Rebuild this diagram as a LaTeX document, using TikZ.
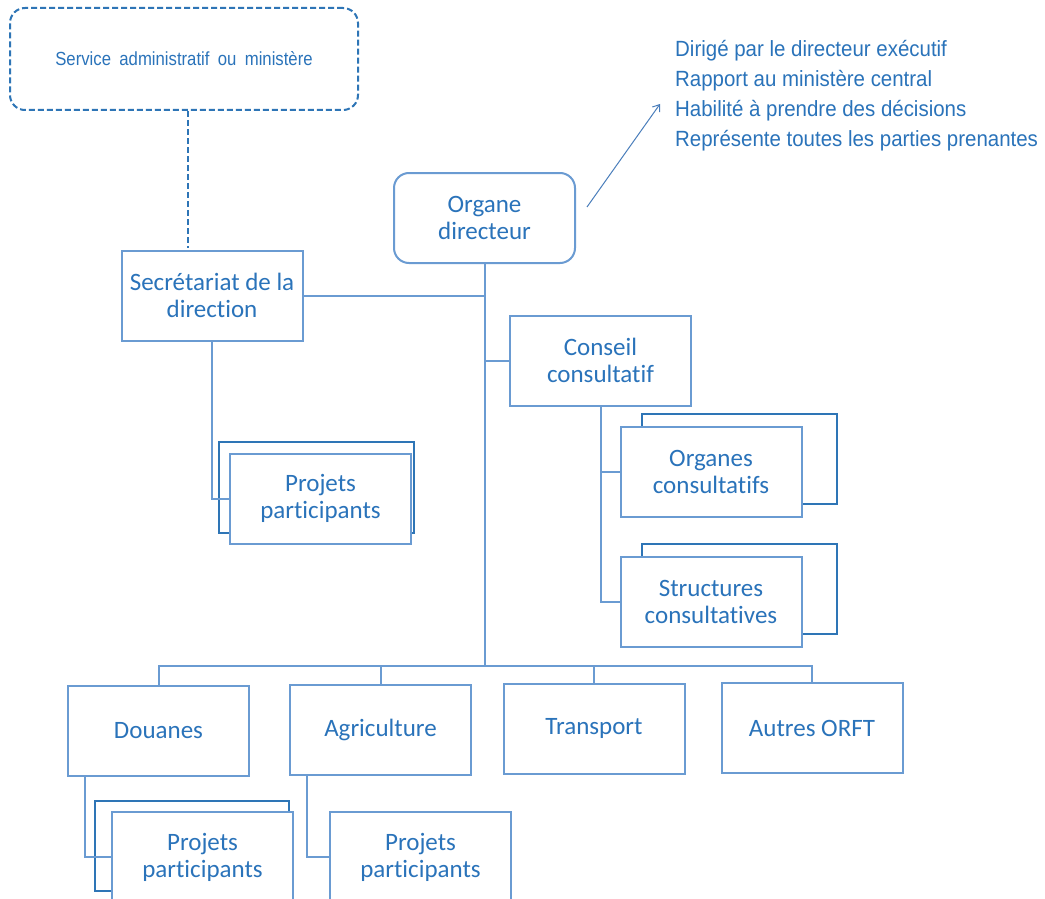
\documentclass[tikz,border=0pt]{standalone}
\usepackage{fontspec}
\setmainfont[Ligatures=NoCommon]{Carlito}
\newfontfamily\narrowfont[FakeStretch=0.93]{Liberation Sans}
\newfontfamily\narrowwide[FakeStretch=0.88,WordSpace=1.8]{Liberation Sans}
\usetikzlibrary{arrows.meta}
\definecolor{txtblue}{HTML}{2A73BA}
\definecolor{linblue}{HTML}{6A9BD2}
\definecolor{darkblue}{HTML}{2E75B6}
\definecolor{arrblue}{HTML}{4A7EBB}
\begin{document}
\begin{tikzpicture}[x=1pt,y=-1pt,
  box/.style={draw=linblue, line width=2pt, fill=white, minimum width=181pt, minimum height=90pt,
    inner sep=0pt, align=center, text=txtblue, font=\fontsize{25}{27}\selectfont},
  roundbox/.style={box, rounded corners=15pt},
  backbox/.style={draw=darkblue, line width=2pt, inner sep=0pt},
  conn/.style={draw=linblue, line width=2pt},
  dashconn/.style={draw=darkblue, line width=2pt, dash pattern=on 6pt off 3pt},
  notes/.style={align=left, text=txtblue, inner sep=0pt, font=\narrowfont\fontsize{22}{30}\selectfont},
]
\clip (0,0) rectangle (1045,899);
\fill[white] (0,0) rectangle (1045,899);

% top service box
\node[dashconn, rounded corners=15pt, minimum width=348pt, minimum height=102pt, inner sep=0pt,
      text=txtblue, font=\narrowwide\fontsize{19}{22}\selectfont] (svc) at (184,59) {Service administratif ou ministère};
\coordinate (d1) at (188,248);
\draw[dashconn] (svc.south -| d1) -- (d1);

% notes
\node[notes, anchor=north west] (nt) at (675,40) {Dirigé par le directeur exécutif\\Rapport au ministère central\\Habilité à prendre des décisions\\Représente toutes les parties prenantes};
\coordinate (a0) at (587,207);
\coordinate (a1) at (660,104);
\draw[arrblue, line width=1pt, -{Straight Barb[length=6pt,width=9pt]}] (a0) -- (a1);

% back boxes
\node[backbox, minimum width=195pt, minimum height=91pt] (spb) at (316.5,487.5) {};
\node[backbox, minimum width=195pt, minimum height=90pt] (ocb) at (739.5,459) {};
\node[backbox, minimum width=195pt, minimum height=90pt] (scb) at (739.5,589) {};
\node[backbox, minimum width=194pt, minimum height=90pt] (dpb) at (192,846) {};

% main boxes
\node[roundbox] (od) at (484.5,218) {Organe\\directeur};
\node[box] (sec) at (212,295.5) {Secrétariat de la\\direction};
\node[box] (sp) at (320.5,498.5) {Projets\\participants};
\node[box] (cc) at (600.5,360.5) {Conseil\\consultatif};
\node[box] (oc) at (711,472) {Organes\\consultatifs};
\node[box] (sc) at (711,601.5) {Structures\\consultatives};
\node[box] (dou) at (158.5,731) {Douanes};
\node[box] (agr) at (380.5,730) {Agriculture};
\node[box] (tra) at (594,728.5) {Transport};
\node[box] (aut) at (812,728) {Autres ORFT};
\node[box] (dp) at (202.5,857) {Projets\\participants};
\node[box] (ap) at (420.5,857) {Projets\\participants};

% connectors
\coordinate (jb) at (484.5,666);
\draw[conn] (od.south) -- (jb);
\draw[conn] (sec.east) -- (sec.east -| od.south);
\draw[conn] (cc.west) -- (cc.west -| od.south);
\draw[conn] (cc.south) |- (oc.west);
\draw[conn] (cc.south) |- (sc.west);
\draw[conn] (sec.south) |- (sp.west);
\draw[conn] (dou.north) -- (dou.north |- jb) -- (aut.north |- jb) -- (aut.north);
\draw[conn] (agr.north) -- (agr.north |- jb);
\draw[conn] (tra.north) -- (tra.north |- jb);
\draw[conn] (dou.south west) ++(18,0) |- (dp.west);
\draw[conn] (agr.south west) ++(18,0) |- (ap.west);
\end{tikzpicture}
\end{document}
